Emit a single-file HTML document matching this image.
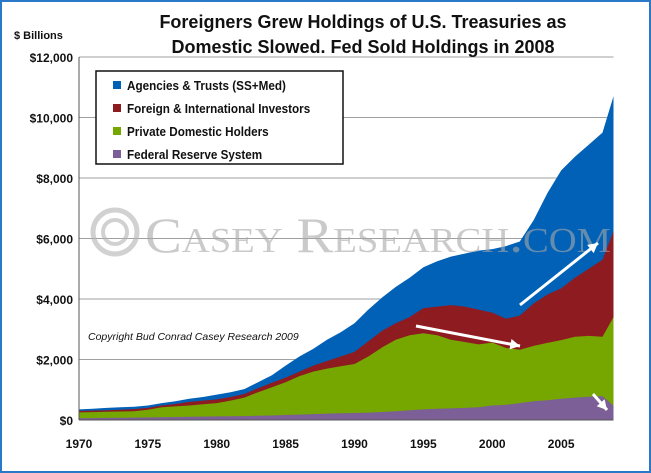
<!DOCTYPE html>
<html><head><meta charset="utf-8"><style>
body{margin:0;background:#fff;}
#wrap{position:relative;width:651px;height:473px;box-sizing:border-box;border:2px solid #2a78c8;overflow:hidden;background:#fff;font-family:"Liberation Sans",sans-serif;}
</style></head><body>
<div id="wrap">
<svg id="chart" width="647" height="469" viewBox="2 2 647 469"></svg>
</div>
<script>
const years=[1970,1971,1972,1973,1974,1975,1976,1977,1978,1979,1980,1981,1982,1983,1984,1985,1986,1987,1988,1989,1990,1991,1992,1993,1994,1995,1996,1997,1998,1999,2000,2001,2002,2003,2004,2005,2006,2007,2008,2008.8];
const fedReserve=[60,62,68,72,78,85,92,98,105,112,120,125,130,140,150,165,180,195,210,220,230,245,265,290,320,350,370,385,400,420,480,500,560,620,650,700,740,770,790,480];
const privateDomestic=[190,198,202,208,212,255,328,352,375,408,440,515,610,780,930,1085,1270,1405,1490,1560,1620,1855,2135,2360,2480,2520,2430,2265,2180,2080,2080,1880,1760,1830,1900,1940,2010,2010,1960,2920];
const foreignIntl=[50,50,50,60,70,60,60,80,120,120,120,120,120,130,150,150,150,200,250,320,400,500,550,550,600,830,950,1150,1170,1150,990,970,1130,1400,1600,1710,1950,2220,2550,2850];
const agencies=[50,60,80,80,80,80,80,90,100,120,160,160,160,200,250,400,500,550,700,800,950,1050,1100,1200,1300,1350,1500,1600,1750,1950,2100,2400,2450,2750,3350,3900,4000,4100,4200,4450];
const yTicks=[0,2000,4000,6000,8000,10000,12000];
const yTickLabels=["$0","$2,000","$4,000","$6,000","$8,000","$10,000","$12,000"];
const xTicks=[1970,1975,1980,1985,1990,1995,2000,2005];
const seriesNames=["Agencies & Trusts (SS+Med)","Foreign & International Investors","Private Domestic Holders","Federal Reserve System"];

const NS="http://www.w3.org/2000/svg";
const svg=document.getElementById('chart');
const X0=79,X1=613.5,Y0=420,Y1=57;
const xs=v=>X0+(v-1970)*(X1-X0)/(2008.8-1970);
const ys=v=>Y0-(v/12000)*(Y0-Y1);
function mk(t,a,p){const e=document.createElementNS(NS,t);for(const k in a)e.setAttribute(k,a[k]);(p||svg).appendChild(e);return e;}

yTicks.forEach((t,i)=>{
  const g=mk('line',{x1:X0,x2:X1,y1:ys(t),y2:ys(t),stroke:'#a0a0a0','stroke-width':1});
  
  
  const tx=mk('text',{x:X0-6,y:ys(t)+5,'text-anchor':'end','font-size':12,'font-weight':'bold',fill:'#111'});
  tx.textContent=yTickLabels[i];
  
  
});

const layers=[fedReserve,privateDomestic,foreignIntl,agencies];
const colors=['#7b5f96','#76a600','#8e1b20','#0061b7'];
const names=['area-federal-reserve','area-private-domestic','area-foreign-international','area-agencies-trusts'];
const cum=years.map(()=>0);
const tops=[];
layers.forEach((arr)=>{
  arr.forEach((v,i)=>cum[i]+=v);
  tops.push(cum.slice());
});
for(let li=layers.length-1;li>=0;li--){
  const t=tops[li];
  let d='M'+xs(years[0])+','+ys(0);
  years.forEach((y,i)=>d+=' L'+xs(y).toFixed(1)+','+ys(t[i]).toFixed(1));
  d+=' L'+xs(years[years.length-1])+','+ys(0)+' Z';
  const p=mk('path',{d,fill:colors[li]});
  
  
}
// watermark (over areas, translucent)
const wm=mk('g',{opacity:0.6});


mk('circle',{cx:115,cy:232,r:22,fill:'none',stroke:'#b4b4b4','stroke-width':5},wm);
mk('circle',{cx:115,cy:232,r:12,fill:'none',stroke:'#b4b4b4','stroke-width':4},wm);
const wt=mk('text',{x:145,y:252,'font-family':'Liberation Serif,serif','font-size':50,fill:'#a8a8a8','font-variant':'small-caps',textLength:466,lengthAdjust:'spacingAndGlyphs'},wm);
wt.textContent='Casey Research.com';

const ax=mk('line',{x1:X0,x2:X1,y1:Y0,y2:Y0,stroke:'#555','stroke-width':1});


const ay=mk('line',{x1:X0,x2:X0,y1:Y1,y2:Y0,stroke:'#555','stroke-width':1});


xTicks.forEach(t=>{
  const tx=mk('text',{x:xs(t),y:448,'text-anchor':'middle','font-size':12,'font-weight':'bold',fill:'#111'});
  tx.textContent=t;
  
  
});
function arrow(x1,y1,x2,y2,name){
  const g=mk('g',{});
  
  
  mk('line',{x1,y1,x2,y2,stroke:'#fff','stroke-width':3},g);
  const a=Math.atan2(y2-y1,x2-x1),L=11;
  const p1=[x2-L*Math.cos(a-0.5),y2-L*Math.sin(a-0.5)],p2=[x2-L*Math.cos(a+0.5),y2-L*Math.sin(a+0.5)];
  mk('polygon',{points:`${x2},${y2} ${p1} ${p2}`,fill:'#fff'},g);
}
arrow(520,305,598,243,'arrow-foreign-up');
arrow(416,326,520,346,'arrow-domestic-down');
arrow(593,394,607,410,'arrow-fed-down');
const cp=mk('text',{x:88,y:340,'font-size':10.5,'font-style':'italic',fill:'#111'});
cp.textContent='Copyright Bud Conrad Casey Research 2009';


['Foreigners Grew Holdings of U.S. Treasuries as','Domestic Slowed. Fed Sold Holdings in 2008'].forEach((s,i)=>{
  const t=mk('text',{x:363,y:28+i*25,'text-anchor':'middle','font-size':18,'font-weight':'bold',fill:'#111'});
  t.textContent=s;
  
  
});
const yt=mk('text',{x:14,y:39,'font-size':11,'font-weight':'bold',fill:'#111'});
yt.textContent='$ Billions';


const lg=mk('g',{});


mk('rect',{x:96,y:71,width:247,height:93,fill:'#fff',stroke:'#111','stroke-width':1.5},lg);
const lcol=['#0061b7','#8e1b20','#76a600','#7b5f96'];
seriesNames.forEach((n,i)=>{
  const e=mk('g',{},lg);
  
  
  mk('rect',{x:113,y:81+i*23,width:8,height:8,fill:lcol[i]},e);
  const t=mk('text',{x:127,y:90+i*23,'font-size':13,'font-weight':'bold',fill:'#111',transform:`translate(${127*0.1},0) scale(0.9,1)`},e);
  t.textContent=n;
});
</script>
</body></html>
